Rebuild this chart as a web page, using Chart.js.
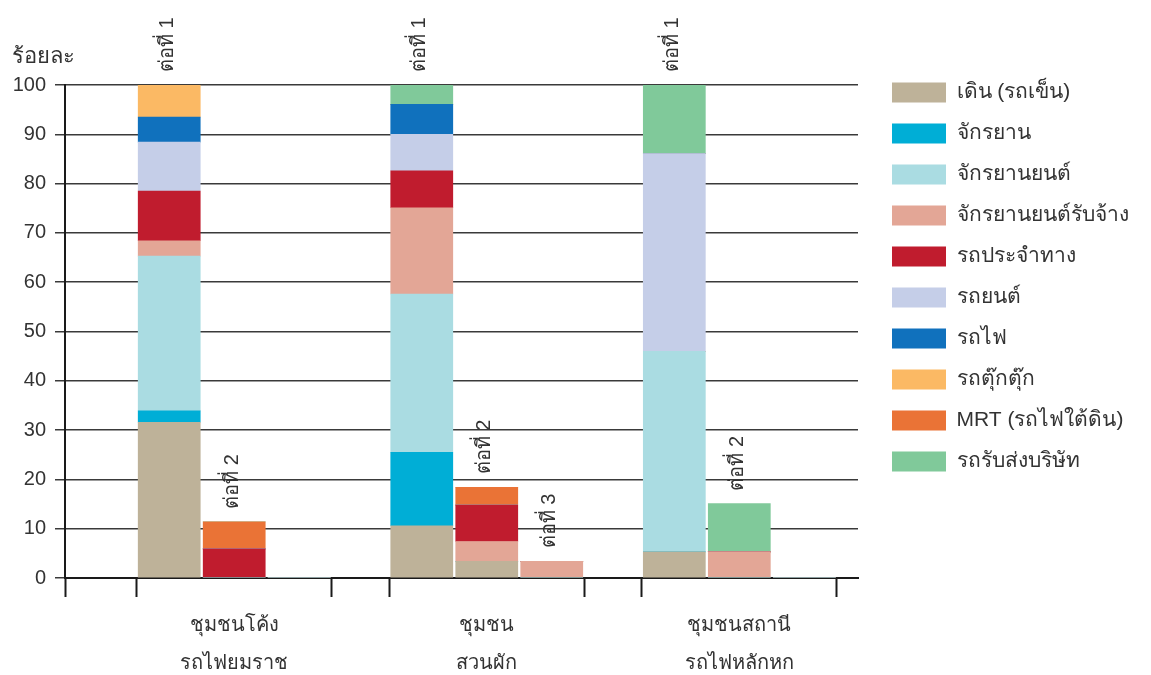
<!DOCTYPE html>
<html>
<head>
<meta charset="utf-8">
<title>การเดินทางแต่ละต่อ</title>
<script src="https://cdn.jsdelivr.net/npm/chart.js@4.4.1/dist/chart.umd.min.js"></script>
<style>
  html, body { margin: 0; padding: 0; background: #ffffff; }
  #wrap { width: 1151px; height: 675px; }
</style>
</head>
<body>
<div id="wrap"><canvas id="chart" width="1151" height="675"></canvas></div>
<script>
// Communities (two-line axis labels), trip legs and travel modes
const communities = [
  ['ชุมชนโค้ง', 'รถไฟยมราช'],
  ['ชุมชน', 'สวนผัก'],
  ['ชุมชนสถานี', 'รถไฟหลักหก']
];
const legNames = ['ต่อที่ 1', 'ต่อที่ 2', 'ต่อที่ 3'];
const modes = [
  'เดิน (รถเข็น)', 'จักรยาน', 'จักรยานยนต์', 'จักรยานยนต์รับจ้าง', 'รถประจำทาง',
  'รถยนต์', 'รถไฟ', 'รถตุ๊กตุ๊ก', 'MRT (รถไฟใต้ดิน)', 'รถรับส่งบริษัท'
];
const modeColors = [
  '#BEB299', '#00AED6', '#AADCE2', '#E3A696', '#C01C2E',
  '#C5CEE8', '#1071BD', '#FBB964', '#EA7336', '#80C99A'
];

// Percentage share per mode (same order as `modes`) for each leg of the trip
const yommaratLeg1 = [31.6, 2.3, 31.4, 3.1, 10.1, 9.9, 5.1, 6.5, 0, 0];
const yommaratLeg2 = [0, 0, 0, 0, 5.9, 0, 0, 0, 5.5, 0];
const suanPhakLeg1 = [10.6, 14.9, 32.1, 17.5, 7.5, 7.4, 6.1, 0, 0, 3.9];
const suanPhakLeg2 = [3.4, 0, 0, 4.0, 7.4, 0, 0, 0, 3.6, 0];
const suanPhakLeg3 = [0, 0, 0, 3.4, 0, 0, 0, 0, 0, 0];
const lakHokLeg1 = [5.3, 0, 40.7, 0, 0, 40.1, 0, 0, 0, 13.9];
const lakHokLeg2 = [0, 0, 0, 5.3, 0, 0, 0, 0, 0, 9.8];

const legsByCommunity = [
  [yommaratLeg1, yommaratLeg2, null],
  [suanPhakLeg1, suanPhakLeg2, suanPhakLeg3],
  [lakHokLeg1, lakHokLeg2, null]
];

const FONT = "'Liberation Sans', 'DejaVu Sans', sans-serif";
const INK = '#333333';
const AXIS = '#1a1a1a';
const CAT_PCT = 0.772;

// One dataset per (mode, leg); the leg decides the stack column
const datasets = [];
modes.forEach((mode, m) => {
  legNames.forEach((leg, k) => {
    datasets.push({
      label: mode,
      stack: leg,
      backgroundColor: modeColors[m],
      borderWidth: 0,
      data: communities.map((_, c) => {
        const bar = legsByCommunity[c][k];
        return { x: c + 1, y: bar ? bar[m] : 0 };
      })
    });
  });
});

// Rotated "ต่อที่ n" captions above every drawn column
const legCaptions = {
  id: 'legCaptions',
  afterDatasetsDraw(chart) {
    const { ctx, scales: { y } } = chart;
    ctx.save();
    ctx.font = `20px ${FONT}`;
    ctx.fillStyle = INK;
    ctx.textAlign = 'left';
    ctx.textBaseline = 'middle';
    legsByCommunity.forEach((legs, c) => {
      legs.forEach((bar, k) => {
        if (!bar) return;
        const total = bar.reduce((a, b) => a + b, 0);
        const el = chart.getDatasetMeta(k).data[c];
        const top = y.getPixelForValue(total);
        ctx.save();
        ctx.translate(el.x - 2, top - 13);
        ctx.rotate(-Math.PI / 2);
        ctx.fillText(legNames[k], 0, 0);
        ctx.restore();
      });
    });
    ctx.restore();
  }
};

// Unit caption above the value axis
const unitCaption = {
  id: 'unitCaption',
  afterDraw(chart) {
    const { ctx, chartArea } = chart;
    ctx.save();
    ctx.font = `22px ${FONT}`;
    ctx.fillStyle = INK;
    ctx.textAlign = 'left';
    ctx.textBaseline = 'alphabetic';
    ctx.fillText('ร้อยละ', chartArea.left - 53, chartArea.top - 22);
    ctx.restore();
  }
};

// Put the legend column to the right of the plot, level with its top
const legendPlacement = {
  id: 'legendPlacement',
  afterLayout(chart) {
    const lg = chart.legend;
    if (!lg) return;
    const pad = lg.options.labels.padding;
    const dx = chart.chartArea.right + 34 - (lg.left + pad);
    const dy = chart.chartArea.top - 3 - (lg.top + pad);
    lg.left += dx; lg.right += dx;
    lg.top += dy; lg.bottom += dy;
  }
};

new Chart(document.getElementById('chart'), {
  type: 'bar',
  data: { datasets },
  plugins: [legendPlacement, legCaptions, unitCaption],
  options: {
    responsive: false,
    animation: false,
    devicePixelRatio: 1,
    layout: { padding: { top: 85, right: 293, bottom: 0, left: 0 } },
    datasets: {
      bar: { barThickness: 'flex', categoryPercentage: CAT_PCT, barPercentage: 0.955, grouped: true }
    },
    plugins: {
      tooltip: { enabled: false },
      legend: {
        position: 'chartArea',
        align: 'start',
        labels: {
          boxWidth: 54,
          boxHeight: 20,
          padding: 20,
          color: INK,
          font: { family: FONT, size: 21 },
          filter: (item) => item.datasetIndex % legNames.length === 0
        }
      }
    },
    scales: {
      x: {
        type: 'linear',
        min: 0.33,
        max: 3.47,
        offset: false,
        stacked: true,
        afterFit: (s) => { s.height = 97; },
        afterBuildTicks: (s) => {
          const half = 1.5 * CAT_PCT / legNames.length;
          const ticks = [{ value: s.min }];
          communities.forEach((_, c) => {
            ticks.push({ value: c + 1 - half }, { value: c + 1, group: c }, { value: c + 1 + half });
          });
          s.ticks = ticks;
        },
        ticks: {
          autoSkip: false,
          maxRotation: 0,
          minRotation: 0,
          padding: 9,
          color: INK,
          font: { family: FONT, size: 20, lineHeight: 1.9 },
          callback: (v, i, ticks) => (ticks[i].group !== undefined ? communities[ticks[i].group] : '')
        },
        grid: {
          display: true,
          drawOnChartArea: false,
          drawTicks: true,
          tickLength: 19,
          tickWidth: 2,
          offset: false,
          tickColor: (ctx) => (ctx.tick && ctx.tick.group !== undefined ? 'rgba(0,0,0,0)' : AXIS)
        },
        border: { display: true, color: AXIS, width: 2 }
      },
      y: {
        stacked: true,
        min: 0,
        max: 100,
        afterFit: (s) => { s.width = 65; },
        ticks: {
          stepSize: 10,
          padding: 9,
          color: INK,
          font: { family: FONT, size: 20 }
        },
        grid: {
          color: '#3a3a3a',
          lineWidth: 1.5,
          drawTicks: true,
          tickLength: 10
        },
        border: { display: true, color: AXIS, width: 2 }
      }
    }
  }
});
</script>
</body>
</html>
